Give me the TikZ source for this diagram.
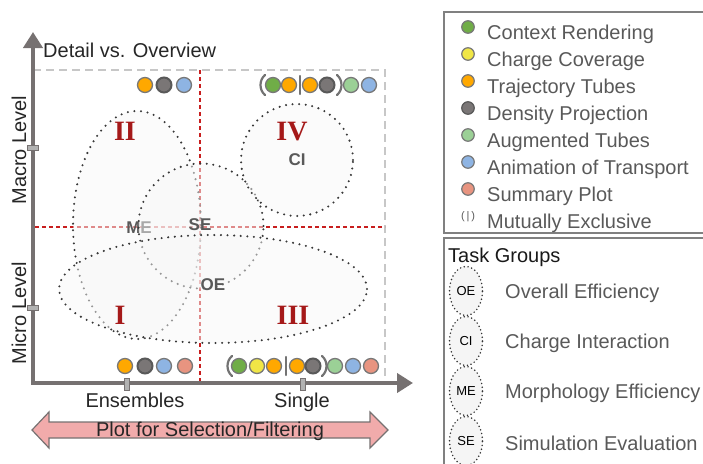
\documentclass[tikz,border=0pt]{standalone}
\usepackage{fontspec}
\setmainfont{Liberation Sans}
\newfontfamily\romanfont{Liberation Serif}
\usetikzlibrary{arrows.meta,shapes.geometric}

\definecolor{axisgray}{RGB}{118,113,113}
\definecolor{txtgray}{RGB}{89,89,89}
\definecolor{boxgray}{RGB}{128,128,128}
\definecolor{redline}{RGB}{200,30,30}
\definecolor{numred}{RGB}{165,25,25}
\definecolor{dotrim}{RGB}{120,120,120}
\definecolor{cGreen}{RGB}{112,173,71}
\definecolor{cYellow}{RGB}{240,230,70}
\definecolor{cOrange}{RGB}{255,168,0}
\definecolor{cDark}{RGB}{122,118,118}
\definecolor{cLgreen}{RGB}{155,208,150}
\definecolor{cBlue}{RGB}{142,180,227}
\definecolor{cSalmon}{RGB}{232,148,128}
\definecolor{arrowpink}{RGB}{241,171,171}

\tikzset{
  cdot/.style={circle, draw=dotrim, line width=1.3pt, minimum size=15pt, inner sep=0pt},
  dGreen/.style={cdot, fill=cGreen},
  dYellow/.style={cdot, fill=cYellow},
  dOrange/.style={cdot, fill=cOrange},
  dDark/.style={cdot, fill=cDark, draw=black!65, line width=2pt},
  dLgreen/.style={cdot, fill=cLgreen},
  dBlue/.style={cdot, fill=cBlue},
  dSalmon/.style={cdot, fill=cSalmon},
  taskarea/.style={draw=black!78, line width=2.3pt, line cap=round,
    dash pattern=on 0pt off 6.6pt, fill=black!3, fill opacity=0.5,
    inner sep=0pt},
  tasklabel/.style={text=txtgray, font=\fontsize{17}{20}\selectfont\bfseries},
  numeral/.style={text=numred, font=\fontsize{28}{30}\selectfont\romanfont\bfseries},
  axisline/.style={draw=axisgray, line width=4pt,
    -{Triangle[length=16pt, width=19pt]}},
  tickmark/.style={draw=axisgray, fill=black!30, line width=1pt, inner sep=0pt},
  bracket/.style={draw=black!55, line width=2.2pt, line cap=round},
  legbox/.style={draw=boxgray, line width=1.5pt},
  legtext/.style={text=txtgray, anchor=base west, inner sep=0pt},
  legdot/.style={minimum size=12.5pt, line width=1.2pt},
  groupmark/.style={ellipse, draw=black!80, line width=1.7pt, line cap=round,
    dash pattern=on 0pt off 3.8pt, fill=black!4, minimum width=33pt,
    minimum height=49pt, inner sep=0pt, font=\fontsize{13}{15}\selectfont}
}

\begin{document}
\begin{tikzpicture}[x=1pt, y=-1pt, font=\fontsize{20}{24}\selectfont]
\useasboundingbox (0,0) rectangle (703,463);
\clip (0,0) rectangle (703,463);

% plot frame and quadrant dividers
\draw[black!22, line width=1.5pt, dash pattern=on 8pt off 5pt] (33,70) -- (385,70) -- (385,383);
\draw[redline, line width=1.3pt, dash pattern=on 4pt off 3pt] (200,70) -- (200,383);
\draw[redline, line width=1.3pt, dash pattern=on 4pt off 3pt] (35,227) -- (385,227);

% task group regions
\node[taskarea, ellipse, minimum width=128pt, minimum height=228pt] (meArea) at (137,225) {};
\node[tasklabel] (meLabel) at (139,228) {ME};
\node[taskarea, circle, minimum size=125pt] (seArea) at (201,226) {};
\node[tasklabel] (seLabel) at (200,225) {SE};
\node[taskarea, ellipse, minimum width=308pt, minimum height=108pt] (oeArea) at (213,289) {};
\node[tasklabel] (oeLabel) at (213,285) {OE};
\node[taskarea, circle, minimum size=112pt] (ciArea) at (297,160) {};
\node[tasklabel] (ciLabel) at (297,160) {CI};

% quadrant numerals
\node[numeral] (qII) at (125,131) {II};
\node[numeral] (qIV) at (292,132) {IV};
\node[numeral] (qI) at (120,315) {I};
\node[numeral] (qIII) at (293,315) {III};

% axes
\coordinate (origin) at (33,383);
\coordinate (ytip) at (33,32);
\coordinate (xtip) at (413,383);
\draw[axisline] (origin) -- (ytip);
\draw[axisline] ([xshift=-2pt]origin) -- (xtip);
\node[tickmark, minimum width=11pt, minimum height=5pt] (tMacro) at (33,148) {};
\node[tickmark, minimum width=11pt, minimum height=5pt] (tMicro) at (33,308) {};
\node[tickmark, minimum width=5pt, minimum height=12pt] (tEns) at (127,384) {};
\node[tickmark, minimum width=5pt, minimum height=12pt] (tSingle) at (303,384) {};

\node[anchor=base west, inner sep=0pt, text=black!85] (yTitle) at (43,57) {Detail vs. Overview};
\node[rotate=90, text=black!85, inner sep=0pt] (macroLbl) at (19,150) {Macro Level};
\node[rotate=90, text=black!85, inner sep=0pt] (microLbl) at (19,313) {Micro Level};
\node[anchor=base, inner sep=0pt, text=black!85] (ensLbl) at (135,407) {Ensembles};
\node[anchor=base, inner sep=0pt, text=black!85] (singleLbl) at (302,407) {Single};

% technique dots per quadrant
\foreach \px/\st [count=\i] in {145/dOrange,164/dDark,184/dBlue}
  \node[\st] (tl\i) at (\px,85) {};
\foreach \px/\st [count=\i] in {273/dGreen,289/dOrange,310/dOrange,327/dDark,351/dLgreen,369/dBlue}
  \node[\st] (tr\i) at (\px,85) {};
\foreach \px/\st [count=\i] in {125/dOrange,145/dDark,164/dBlue,185/dSalmon}
  \node[\st] (bl\i) at (\px,366) {};
\foreach \px/\st [count=\i] in {239/dGreen,257/dYellow,274/dOrange,297/dOrange,313/dDark,335/dLgreen,353/dBlue,371/dSalmon}
  \node[\st] (br\i) at (\px,366) {};

% exclusivity brackets
\draw[bracket] (265,75) .. controls (259,80) and (259,90) .. (265,95);
\draw[bracket] (300,76) -- (300,94);
\draw[bracket] (337,75) .. controls (343,80) and (343,90) .. (337,95);
\draw[bracket] (232,356) .. controls (226,361) and (226,371) .. (232,376);
\draw[bracket] (286,357) -- (286,375);
\draw[bracket] (322,356) .. controls (328,361) and (328,371) .. (322,376);

% selection / filtering range
\draw[draw=axisgray, fill=arrowpink, line width=1.2pt, line join=miter]
  (32,430) -- (49,412) -- (49,422) -- (370,422) -- (370,412) -- (388,430)
  -- (370,448) -- (370,438) -- (49,438) -- (49,448) -- cycle;
\node[text=black!85, inner sep=0pt] (selLbl) at (210,431) {Plot for Selection/Filtering};

% legend: techniques
\draw[legbox] (444,12) rectangle (712,233);
\foreach \st/\txt [count=\i] in {dGreen/Context Rendering, dYellow/Charge Coverage,
    dOrange/Trajectory Tubes, dDark/Density Projection, dLgreen/Augmented Tubes,
    dBlue/Animation of Transport, dSalmon/Summary Plot} {
  \node[\st, legdot] (lgDot\i) at (468,{27+27*(\i-1)}) {};
  \node[legtext] (lgTxt\i) at (487,{39+27*(\i-1)}) {\txt};
}
\node[text=txtgray, font=\fontsize{11}{13}\selectfont, inner sep=0pt] (lgExcl) at (468,217) {(\,|\,)};
\node[legtext] (lgExclTxt) at (487,228) {Mutually Exclusive};

% legend: task groups
\draw[legbox] (444,238) rectangle (712,475);
\node[anchor=base west, inner sep=0pt, text=black!90] (tgTitle) at (448,262) {Task Groups};
\foreach \ab/\txt [count=\i] in {OE/Overall Efficiency, CI/Charge Interaction,
    ME/Morphology Efficiency, SE/Simulation Evaluation} {
  \node[groupmark] (tgMark\i) at (466,{291+50*(\i-1)}) {\ab};
  \node[legtext, anchor=west] (tgTxt\i) at (505,{293+50*(\i-1)}) {\txt};
}
\end{tikzpicture}
\end{document}
